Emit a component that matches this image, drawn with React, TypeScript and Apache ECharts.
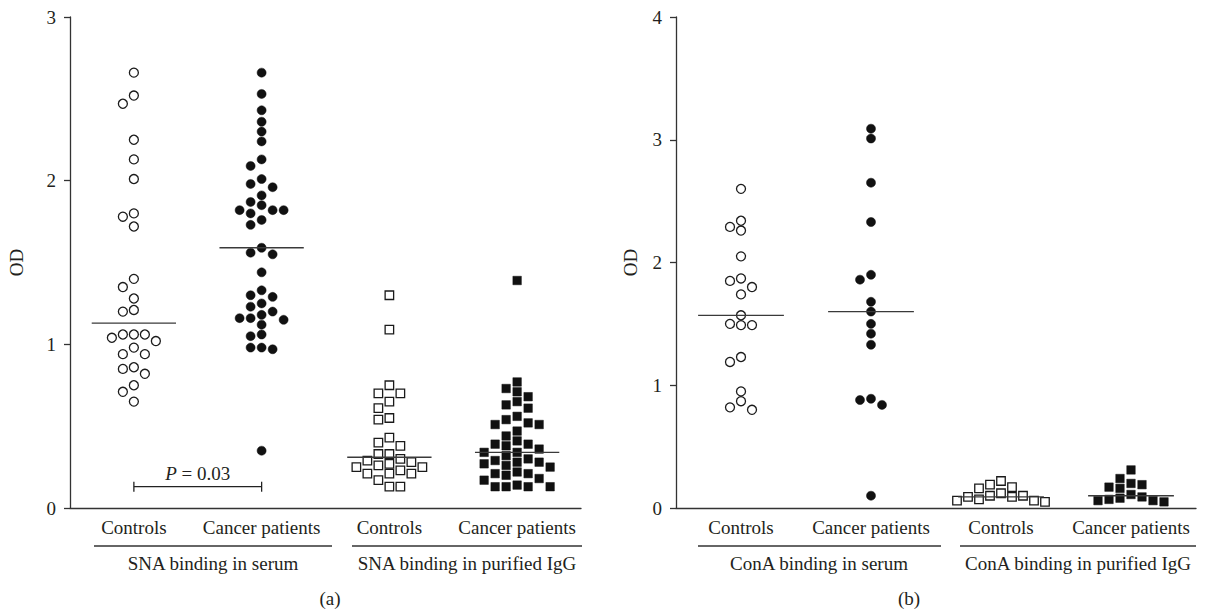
import React, { useEffect, useRef } from "react";
import * as echarts from "echarts";

// ---------- data ----------
const categories = ["Controls", "Cancer patients", "Controls", "Cancer patients"];
const groupLabelsA = ["SNA binding in serum", "SNA binding in purified IgG"];
const groupLabelsB = ["ConA binding in serum", "ConA binding in purified IgG"];
const panelLabels = ["(a)", "(b)"];
const yTicksA = [0, 1, 2, 3];
const yTicksB = [0, 1, 2, 3, 4];
const yAxisName = "OD";

const snaSerumControls = [2.66, 2.52, 2.47, 2.25, 2.13, 2.01, 1.8, 1.78, 1.72, 1.4, 1.35, 1.28, 1.21, 1.2, 1.06, 1.06, 1.02, 1.04, 1.06, 0.98, 0.94, 0.94, 0.86, 0.82, 0.85, 0.75, 0.71, 0.65];
const snaSerumCancer = [2.66, 2.53, 2.43, 2.36, 2.3, 2.24, 2.13, 2.09, 2.01, 1.98, 1.96, 1.91, 1.87, 1.85, 1.82, 1.82, 1.82, 1.8, 1.76, 1.73, 1.59, 1.56, 1.55, 1.44, 1.33, 1.3, 1.29, 1.25, 1.23, 1.2, 1.18, 1.16, 1.15, 1.16, 1.12, 1.06, 1.05, 0.98, 0.97, 0.98, 0.35];
const snaIgGControls = [1.3, 1.09, 0.75, 0.7, 0.7, 0.65, 0.61, 0.55, 0.54, 0.43, 0.4, 0.38, 0.33, 0.33, 0.3, 0.29, 0.28, 0.27, 0.26, 0.25, 0.25, 0.23, 0.21, 0.21, 0.21, 0.17, 0.13, 0.13];
const snaIgGCancer = [1.39, 0.77, 0.73, 0.71, 0.68, 0.65, 0.63, 0.61, 0.56, 0.54, 0.52, 0.51, 0.51, 0.47, 0.44, 0.41, 0.39, 0.39, 0.38, 0.36, 0.34, 0.34, 0.32, 0.3, 0.29, 0.28, 0.28, 0.27, 0.26, 0.25, 0.22, 0.21, 0.21, 0.2, 0.18, 0.17, 0.14, 0.13, 0.13, 0.13, 0.13];
const mediansA = [1.13, 1.59, 0.31, 0.34];

const conASerumControls = [2.6, 2.34, 2.29, 2.26, 2.05, 1.87, 1.85, 1.8, 1.74, 1.57, 1.49, 1.49, 1.5, 1.23, 1.19, 0.95, 0.87, 0.82, 0.8];
const conASerumCancer = [3.09, 3.01, 2.65, 2.33, 1.9, 1.86, 1.68, 1.6, 1.5, 1.42, 1.33, 0.88, 0.84, 0.89, 0.1];
const conAIgGControls = [0.22, 0.17, 0.16, 0.19, 0.12, 0.09, 0.09, 0.1, 0.1, 0.06, 0.05, 0.06, 0.07];
const conAIgGCancer = [0.31, 0.2, 0.17, 0.16, 0.19, 0.24, 0.11, 0.08, 0.06, 0.05, 0.06, 0.07, 0.09];
const mediansB = [1.57, 1.6, 0.09, 0.1];

const pBracket = { from: 0, to: 1, level: 0.13, label: "0.03" };

// ---------- layout / style ----------
const FONT = "Liberation Serif";
const FS = 19;
const INK = "#231f20";
const GA = { left: 70, top: 17, width: 511, height: 491 };
const GB = { left: 676, top: 17, width: 520, height: 491 };

function swarmOffsets(values: number[], pxPerUnit: number, diameter = 9, step = 11) {
  const order = values.map((v, i) => i).sort((a, b) => values[b] - values[a]);
  const placed: { slot: number; y: number }[] = [];
  const out = new Array(values.length).fill(0);
  const slotOrder = [0, -1, 1, -2, 2, -3, 3, -4, 4, -5, 5];
  for (const idx of order) {
    const y = values[idx] * pxPerUnit;
    for (const s of slotOrder) {
      if (!placed.some((p) => p.slot === s && Math.abs(p.y - y) < diameter)) {
        placed.push({ slot: s, y });
        out[idx] = s * step;
        break;
      }
    }
  }
  return out;
}

function scatter(values: number[], cat: number, axis: number, pxPerUnit: number, symbol: string, filled: boolean) {
  const off = swarmOffsets(values, pxPerUnit);
  return {
    type: "scatter",
    xAxisIndex: axis,
    yAxisIndex: axis,
    symbol,
    symbolSize: symbol === "circle" ? 9 : 8.5,
    z: 2,
    itemStyle: filled
      ? { color: "#111111", borderColor: "#111111", borderWidth: 0.5, opacity: 1 }
      : { color: "#ffffff", borderColor: "#1a1a1a", borderWidth: 1.3, opacity: 1 },
    data: values.map((v, i) => ({ value: [cat, v], symbolOffset: [off[i], 0] })),
  };
}

function medianSeries(medians: number[], axis: number) {
  return {
    type: "custom",
    xAxisIndex: axis,
    yAxisIndex: axis,
    z: 5,
    data: medians.map((m, i) => [i, m]),
    renderItem: (params: any, api: any) => {
      const p = api.coord([api.value(0), api.value(1)]);
      const half = api.size([1, 0])[0] * 0.33;
      return {
        type: "line",
        shape: { x1: p[0] - half, y1: p[1], x2: p[0] + half, y2: p[1] },
        style: { stroke: "#3a3a3a", lineWidth: 1.3 },
      };
    },
  };
}

function xAxis(grid: number) {
  return {
    gridIndex: grid,
    type: "category",
    data: categories.map((c, i) => "k" + i),
    boundaryGap: true,
    axisLine: { lineStyle: { color: "#333", width: 1.3 } },
    axisTick: { alignWithLabel: true, length: 6, lineStyle: { color: "#333", width: 1.3 } },
    axisLabel: {
      interval: 0,
      margin: 10,
      formatter: (v: string, i: number) => categories[i],
      fontFamily: FONT,
      fontSize: FS,
      color: INK,
    },
    splitLine: { show: false },
  };
}

function yAxis(grid: number, ticks: number[], gap: number) {
  return {
    gridIndex: grid,
    type: "value",
    min: ticks[0],
    max: ticks[ticks.length - 1],
    interval: 1,
    name: yAxisName,
    nameLocation: "middle",
    nameGap: gap,
    nameTextStyle: { fontFamily: FONT, fontSize: FS, color: INK },
    axisLine: { show: true, lineStyle: { color: "#333", width: 1.3 } },
    axisTick: { show: true, length: 6, lineStyle: { color: "#333", width: 1.3 } },
    axisLabel: { margin: 14, fontFamily: FONT, fontSize: FS, color: INK },
    splitLine: { show: false },
  };
}

const txt = (text: string, x: number, y: number) => ({
  type: "text",
  x,
  y,
  style: { text, fontFamily: FONT, fontSize: FS, fill: INK, align: "center", verticalAlign: "middle" },
});
const hline = (x1: number, x2: number, y: number) => ({
  type: "line",
  shape: { x1, y1: y, x2, y2: y },
  style: { stroke: "#333", lineWidth: 1.3 },
});

export default function App() {
  const ref = useRef<HTMLDivElement>(null);
  useEffect(() => {
    if (!ref.current) return;
    const chart = echarts.init(ref.current, null, { renderer: "svg" });
    const pxA = GA.height / (yTicksA[yTicksA.length - 1] - yTicksA[0]);
    const pxB = GB.height / (yTicksB[yTicksB.length - 1] - yTicksB[0]);
    const option: any = {
      animation: false,
      backgroundColor: "#ffffff",
      grid: [
        { ...GA, containLabel: false },
        { ...GB, containLabel: false },
      ],
      xAxis: [xAxis(0), xAxis(1)],
      yAxis: [yAxis(0, yTicksA, 44), yAxis(1, yTicksB, 36)],
      series: [
        scatter(snaSerumControls, 0, 0, pxA, "circle", false),
        scatter(snaSerumCancer, 1, 0, pxA, "circle", true),
        scatter(snaIgGControls, 2, 0, pxA, "rect", false),
        scatter(snaIgGCancer, 3, 0, pxA, "rect", true),
        medianSeries(mediansA, 0),
        {
          type: "custom",
          xAxisIndex: 0,
          yAxisIndex: 0,
          encode: { x: [0, 1], y: 2 },
          data: [[pBracket.from, pBracket.to, pBracket.level]],
          renderItem: (params: any, api: any) => {
            const a = api.coord([api.value(0), api.value(2)]);
            const b = api.coord([api.value(1), api.value(2)]);
            const st = { stroke: "#222", lineWidth: 1.3 };
            return {
              type: "group",
              children: [
                { type: "line", shape: { x1: a[0], y1: a[1], x2: b[0], y2: b[1] }, style: st },
                { type: "line", shape: { x1: a[0], y1: a[1] - 5, x2: a[0], y2: a[1] + 5 }, style: st },
                { type: "line", shape: { x1: b[0], y1: b[1] - 5, x2: b[0], y2: b[1] + 5 }, style: st },
                {
                  type: "text",
                  x: (a[0] + b[0]) / 2,
                  y: a[1] - 4,
                  style: {
                    text: "{i|P} = " + pBracket.label,
                    rich: { i: { fontStyle: "italic", fontFamily: FONT, fontSize: FS, fill: INK } },
                    fontFamily: FONT,
                    fontSize: FS,
                    fill: INK,
                    align: "center",
                    verticalAlign: "bottom",
                  },
                },
              ],
            };
          },
        },
        scatter(conASerumControls, 0, 1, pxB, "circle", false),
        scatter(conASerumCancer, 1, 1, pxB, "circle", true),
        scatter(conAIgGControls, 2, 1, pxB, "rect", false),
        scatter(conAIgGCancer, 3, 1, pxB, "rect", true),
        medianSeries(mediansB, 1),
      ],
      graphic: [
        hline(94, 332, 546),
        hline(352, 582, 546),
        txt(groupLabelsA[0], 213, 563),
        txt(groupLabelsA[1], 467, 563),
        txt(panelLabels[0], 330, 598),
        hline(698, 941, 546),
        hline(960, 1196, 546),
        txt(groupLabelsB[0], 819, 563),
        txt(groupLabelsB[1], 1078, 563),
        txt(panelLabels[1], 909, 598),
      ],
    };
    chart.setOption(option);
    return () => chart.dispose();
  }, []);
  return (
    <div
      ref={ref}
      style={{ position: "fixed", left: 0, top: 0, width: 1212, height: 614, background: "#fff" }}
    />
  );
}
